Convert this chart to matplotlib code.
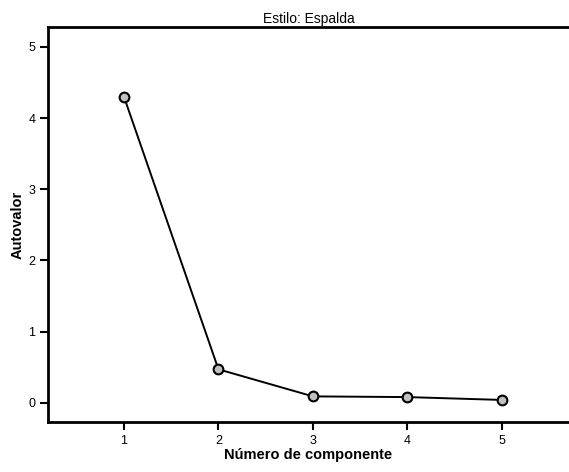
import matplotlib
matplotlib.use("Agg")
import matplotlib.pyplot as plt

components = [1, 2, 3, 4, 5]
eigenvalues = [4.30, 0.47, 0.09, 0.08, 0.04]
x_ticks = [1, 2, 3, 4, 5]
y_ticks = [0, 1, 2, 3, 4, 5]

plt.rcParams['font.family'] = ['Liberation Sans', 'DejaVu Sans']

fig = plt.figure(figsize=(5.69, 4.72), dpi=100)
ax = fig.add_axes([48/569, 1-422/472, 1-48/569, (422-27)/472])

ax.plot(components, eigenvalues, color='black', linewidth=1.4, marker='o',
        markersize=7, markerfacecolor='#c0c0c0', markeredgecolor='black',
        markeredgewidth=1.5, clip_on=False, zorder=3)

ax.set_xlim(0.196, 5.71)
ax.set_ylim(-0.27, 5.28)
ax.set_xticks(x_ticks)
ax.set_yticks(y_ticks)
ax.tick_params(direction='out', length=6, width=1.5, labelsize=9, pad=3)
for s in ['left', 'bottom', 'top']:
    ax.spines[s].set_linewidth(2)
ax.spines['right'].set_visible(False)

ax.set_xlabel('Número de componente', fontsize=10.5, fontweight='bold', labelpad=1)
ax.set_ylabel('Autovalor', fontsize=10.5, fontweight='bold', labelpad=3)
ax.set_title('Estilo: Espalda', fontsize=10, pad=3)

fig.savefig('out.png', dpi=100)
